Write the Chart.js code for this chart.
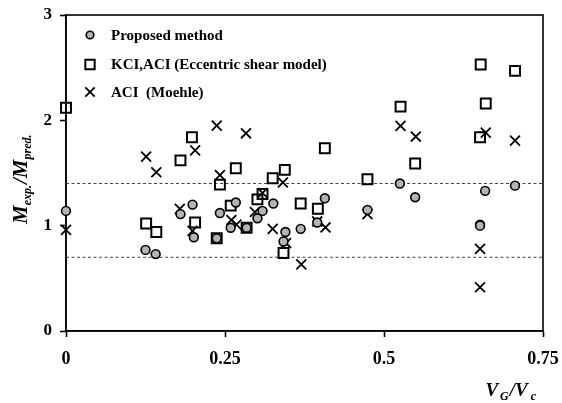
<!DOCTYPE html>
<html>
<head>
<meta charset="utf-8">
<script src="https://cdn.jsdelivr.net/npm/chart.js@4/dist/chart.umd.min.js"></script>
<style>
html,body{margin:0;padding:0;background:#fff;}
#wrap{width:562px;height:403px;position:relative;}
</style>
</head>
<body>
<div id="wrap"><canvas id="c"></canvas></div>
<script>
// ---- data ----
const seriesLabels = ['Proposed method', 'KCI,ACI (Eccentric shear model)', 'ACI  (Moehle)'];

const proposedX = [0, 0.125, 0.141, 0.180, 0.199, 0.201, 0.237, 0.242, 0.267, 0.259, 0.284, 0.301, 0.309, 0.326, 0.345, 0.342, 0.369, 0.395, 0.407, 0.474, 0.525, 0.549, 0.651, 0.651, 0.659, 0.706];
const proposedY = [1.14, 0.77, 0.73, 1.11, 1.20, 0.89, 0.88, 1.12, 1.22, 0.98, 0.98, 1.07, 1.14, 1.21, 0.94, 0.85, 0.97, 1.03, 1.26, 1.15, 1.40, 1.27, 1.01, 1.00, 1.33, 1.38];

const kciX = [0, 0.126, 0.142, 0.180, 0.198, 0.203, 0.237, 0.242, 0.259, 0.267, 0.284, 0.301, 0.309, 0.325, 0.344, 0.342, 0.369, 0.396, 0.407, 0.474, 0.526, 0.549, 0.652, 0.651, 0.660, 0.706];
const kciY = [2.12, 1.02, 0.94, 1.62, 1.84, 1.03, 0.88, 1.39, 1.19, 1.545, 0.98, 1.25, 1.30, 1.45, 1.53, 0.74, 1.21, 1.16, 1.735, 1.44, 2.13, 1.59, 2.53, 1.84, 2.16, 2.47];

const moehleX = [0, 0.126, 0.142, 0.179, 0.199, 0.203, 0.237, 0.242, 0.260, 0.268, 0.283, 0.297, 0.309, 0.325, 0.341, 0.346, 0.370, 0.395, 0.408, 0.474, 0.526, 0.550, 0.651, 0.651, 0.660, 0.706];
const moehleY = [0.96, 1.655, 1.507, 1.16, 0.95, 1.715, 1.95, 1.48, 1.054, 1.01, 1.877, 1.13, 1.31, 0.97, 1.41, 0.835, 0.633, 1.04, 0.983, 1.11, 1.947, 1.846, 0.78, 0.415, 1.883, 1.807];

const boundX = [0, 0.75];
const upperBound = [1.4, 1.4];
const lowerBound = [0.7, 0.7];

const xTicks = [0, 0.25, 0.5, 0.75];
const xTickLabels = ['0', '0.25', '0.5', '0.75'];
const yTicks = [0, 1, 2, 3];

// ---- build ----
const toPts = (xs, ys) => xs.map((x, i) => ({x: x, y: ys[i]}));
const SERIF = '"Liberation Serif", "DejaVu Serif", serif';

const frameAndLegend = {
  id: 'frameAndLegend',
  beforeDatasetsDraw(chart) {
    const {ctx, chartArea: a} = chart;
    ctx.save();
    ctx.strokeStyle = '#000';
    ctx.lineWidth = 1.6;
    ctx.strokeRect(a.left, a.top, a.right - a.left, a.bottom - a.top);
    ctx.restore();
  },
  afterDraw(chart) {
    const {ctx, chartArea: a} = chart;
    ctx.save();
    // legend
    ctx.font = 'bold 15px ' + SERIF;
    ctx.fillStyle = '#000';
    ctx.textBaseline = 'middle';
    const rows = [20, 49.5, 77];
    for (let i = 0; i < 3; i++) {
      const ds = chart.data.datasets[i];
      const cy = a.top + rows[i];
      const cx = a.left + 24;
      ctx.save();
      ctx.fillStyle = ds.backgroundColor;
      ctx.strokeStyle = ds.borderColor;
      ctx.lineWidth = ds.borderWidth;
      Chart.helpers.drawPoint(ctx, {pointStyle: ds.pointStyle, radius: i === 0 ? 3.8 : 6.6, borderWidth: ds.borderWidth, rotation: 0}, cx, cy);
      ctx.restore();
      ctx.fillText(seriesLabels[i], a.left + 45, cy + 1);
    }
    // y axis title with subscripts, rotated
    ctx.save();
    ctx.translate(27, 224);
    ctx.rotate(-Math.PI / 2);
    ctx.textBaseline = 'alphabetic';
    ctx.textAlign = 'left';
    let x = 0;
    const big = 'bold italic 21px ' + SERIF;
    const small = 'bold italic 12px ' + SERIF;
    const parts = [['M', big, 0], ['exp.', small, 4], ['/', big, 0], ['M', big, 0], ['pred.', small, 4]];
    for (const [t, f, dy] of parts) {
      ctx.font = f;
      ctx.fillText(t, x, dy);
      x += ctx.measureText(t).width + (f === small ? 1 : 0);
    }
    ctx.restore();
    // x axis title
    ctx.save();
    ctx.textBaseline = 'alphabetic';
    const bigX = 'bold italic 19px ' + SERIF;
    const smallX = 'bold italic 12px ' + SERIF;
    const partsX = [['V', bigX, 0, 2], ['G', smallX, 4, 1], ['/', bigX, 0, 0], ['V', bigX, 0, 3], ['c', smallX, 4, 0]];
    let w = 0;
    for (const [t, f, dy, gap] of partsX) { ctx.font = f; w += ctx.measureText(t).width + gap; }
    let xx = 536 - w;
    for (const [t, f, dy, gap] of partsX) {
      ctx.font = f;
      ctx.fillText(t, xx, 396 + dy);
      xx += ctx.measureText(t).width + gap;
    }
    ctx.restore();
    ctx.restore();
  }
};

new Chart(document.getElementById('c'), {
  type: 'scatter',
  data: {
    datasets: [
      {label: seriesLabels[0], data: toPts(proposedX, proposedY), pointStyle: 'circle', pointRadius: 4.4, pointHoverRadius: 4.4,
       backgroundColor: '#b4b4b4', borderColor: '#000', borderWidth: 1.6, order: 1, clip: false},
      {label: seriesLabels[1], data: toPts(kciX, kciY), pointStyle: 'rect', pointRadius: 7, pointHoverRadius: 7,
       backgroundColor: 'rgba(255,255,255,0)', borderColor: '#000', borderWidth: 2, order: 2, clip: false},
      {label: seriesLabels[2], data: toPts(moehleX, moehleY), pointStyle: 'crossRot', pointRadius: 7, pointHoverRadius: 7,
       backgroundColor: '#000', borderColor: '#000', borderWidth: 1.8, order: 3, clip: false},
      {type: 'line', label: 'upper', data: toPts(boundX, upperBound), borderColor: '#444', borderWidth: 1.1, borderDash: [3, 2.5],
       pointRadius: 0, fill: false, order: 4},
      {type: 'line', label: 'lower', data: toPts(boundX, lowerBound), borderColor: '#444', borderWidth: 1.1, borderDash: [3, 2.5],
       pointRadius: 0, fill: false, order: 4}
    ]
  },
  options: {
    responsive: true,
    maintainAspectRatio: false,
    animation: false,
    events: [],
    layout: {padding: {left: 0, right: 19, top: 15, bottom: 0}},
    plugins: {legend: {display: false}, tooltip: {enabled: false}},
    scales: {
      x: {
        type: 'linear', min: 0, max: 0.75,
        afterBuildTicks: (s) => { s.ticks = xTicks.map(v => ({value: v})); },
        afterFit: (s) => { s.height = 72; s.paddingLeft = 0; s.paddingRight = 0; },
        grid: {drawOnChartArea: false, drawTicks: true, tickLength: 6, tickWidth: 1.6, tickColor: '#000'},
        border: {display: true, color: '#000', width: 1.6},
        ticks: {color: '#000', padding: 12, maxRotation: 0, font: {family: SERIF, weight: 'bold', size: 18},
          callback: (v) => { const i = xTicks.indexOf(v); return i >= 0 ? xTickLabels[i] : ''; }}
      },
      y: {
        type: 'linear', min: 0, max: 3,
        afterBuildTicks: (s) => { s.ticks = yTicks.map(v => ({value: v})); },
        afterFit: (s) => { s.width = 66; s.paddingTop = 0; s.paddingBottom = 0; },
        grid: {drawOnChartArea: false, drawTicks: true, tickLength: 6, tickWidth: 1.6, tickColor: '#000'},
        border: {display: true, color: '#000', width: 1.6},
        ticks: {color: '#000', padding: 8, font: {family: SERIF, weight: 'bold', size: 17}}
      }
    }
  },
  plugins: [frameAndLegend]
});
</script>
</body>
</html>
